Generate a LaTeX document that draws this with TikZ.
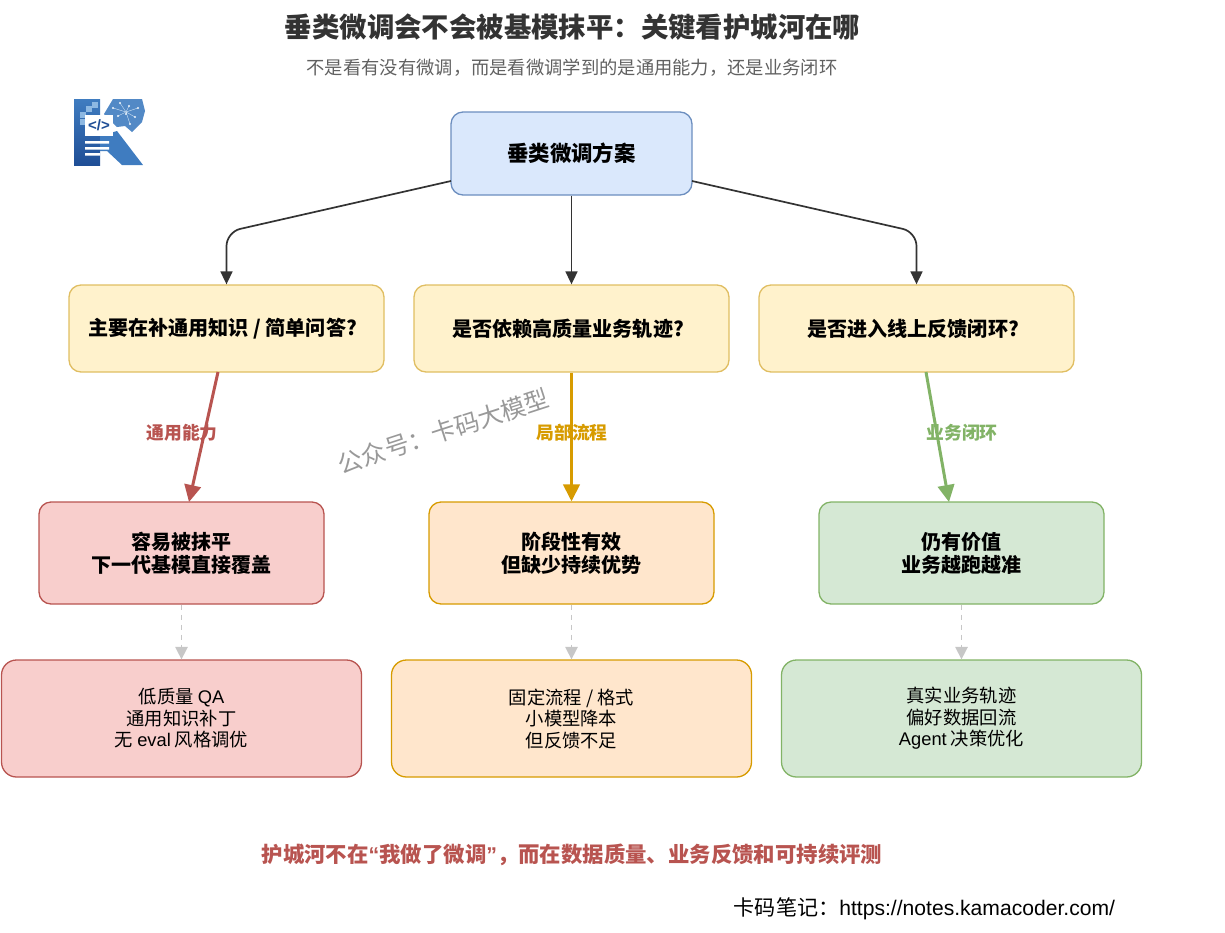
\documentclass[tikz,border=0pt]{standalone}
\usepackage{fontspec}
\setmainfont{Noto Sans CJK SC}
\newfontfamily\latfont{Liberation Sans}
\usetikzlibrary{arrows.meta}
\definecolor{inkc}{HTML}{333333}
\definecolor{bluef}{HTML}{DAE8FC}
\definecolor{blued}{HTML}{6C8EBF}
\definecolor{yelf}{HTML}{FFF2CC}
\definecolor{yeld}{HTML}{E0BE62}
\definecolor{redf}{HTML}{F8CECC}
\definecolor{redd}{HTML}{B85450}
\definecolor{oraf}{HTML}{FFE6CC}
\definecolor{orad}{HTML}{D79B00}
\definecolor{grnf}{HTML}{D5E8D4}
\definecolor{grnd}{HTML}{82B366}
\definecolor{logod}{HTML}{1F4E96}
\definecolor{logom}{HTML}{3F7CC0}
\definecolor{logol}{HTML}{8DB8E2}
\tikzset{
    box/.style={draw, rounded corners=12, line width=1.3, align=center, text=black},
    rootbox/.style={box, fill=bluef, draw=blued, minimum width=241, minimum height=83,
        font=\fontsize{21.4}{24}\selectfont\bfseries},
    askbox/.style={box, fill=yelf, draw=yeld, minimum width=315, minimum height=87,
        font=\fontsize{20.1}{23}\selectfont\bfseries},
    endbox/.style={box, minimum width=285, minimum height=102,
        font=\fontsize{20}{23}\selectfont\bfseries},
    notebox/.style={box, rounded corners=15, minimum width=360, minimum height=117,
        font=\fontsize{18.3}{21.5}\selectfont},
    tag/.style={font=\fontsize{17.8}{20}\selectfont\bfseries},
    plainarrow/.style={-{Triangle[length=13, width=12]}, line width=1.7, draw=inkc},
    thickarrow/.style={-{Triangle[length=17, width=16.5]}, line width=3},
    hintarrow/.style={-{Triangle[length=12.5, width=12.5]}, line width=1.5, draw=black!22, dash pattern=on 5 off 5}
}
\begin{document}
\begin{tikzpicture}[x=1pt, y=-1pt]
            \useasboundingbox (0,0) rectangle (1225,932);

            % title
            \node[text=inkc, font=\fontsize{27.4}{30}\selectfont\bfseries] (title) at (572.5, 27) {垂类微调会不会被基模抹平：关键看护城河在哪};
            \node[text=black!62, font=\fontsize{18.3}{22}\selectfont] (subtitle) at (572, 68) {不是看有没有微调，而是看微调学到的是通用能力，还是业务闭环};

            % logo
            \fill[top color=logom, bottom color=logod] (74,99) rectangle (100,165);
            \fill[logom] (117,131) -- (143,165) -- (122,165) -- (107,151) -- (100,151) -- (100,136) -- cycle;
            \fill[logom!90] (113,99) -- (142,99) -- (145,111) -- (142,122) -- (132,132) -- (125,126) -- (117,127) -- (104,114) -- cycle;
            \foreach \x/\y in {80/112, 80/119, 86/106, 92/102}{
                \fill[logol] (\x,\y) rectangle +(5.5,5.5);
            }
            \foreach \x/\y in {113/108, 120/103, 129/106, 138/108, 126/114, 135/117, 118/116, 130/124}{
                \draw[white!60!logol, line width=0.4] (\x,\y) -- (126,112);
                \fill[white!85!logol] (\x,\y) circle (1.2);
            }
            \fill[white] (85,115) rectangle (113,136);
            \node[text=logod, font=\latfont\fontsize{15}{16}\selectfont\bfseries] (logotag) at (99,125) {</>};
            \fill[white] (85,141) rectangle (109,143.5)
                         (85,147) rectangle (109,149.5)
                         (85,153) rectangle (100,155.5);

            % boxes
            \node[rootbox] (root) at (571.5, 153.5) {\raisebox{-1.5pt}{垂类微调方案}};

            \node[askbox] (ask1) at (226.5, 328.5) {主要在补通用知识 / 简单问答?\hspace*{8pt}};
            \node[askbox] (ask2) at (571.5, 328.5) {是否依赖高质量业务轨迹?\hspace*{7pt}};
            \node[askbox] (ask3) at (916.5, 328.5) {是否进入线上反馈闭环?\hspace*{7pt}};

            \node[endbox, fill=redf, draw=redd] (end1) at (181.5, 553) {容易被抹平\\下一代基模直接覆盖};
            \node[endbox, fill=oraf, draw=orad] (end2) at (571.5, 553) {阶段性有效\\但缺少持续优势};
            \node[endbox, fill=grnf, draw=grnd] (end3) at (961.5, 553) {仍有价值\\业务越跑越准};

            \node[notebox, fill=redf, draw=redd] (note1) at (181.5, 718.5) {低质量 {\latfont QA}\\通用知识补丁\\无 {\latfont eval} 风格调优};
            \node[notebox, fill=oraf, draw=orad] (note2) at (571.5, 718.5) {固定流程 / 格式\\小模型降本\\但反馈不足};
            \node[notebox, fill=grnf, draw=grnd] (note3) at (961.5, 718.5) {真实业务轨迹\\偏好数据回流\\{\latfont Agent} 决策优化};

            % root to questions
            \coordinate (rootl) at (451, 181);
            \coordinate (rootr) at (692, 181);
            \draw[plainarrow, rounded corners=14] (rootl) -- (226.5, 232) -- (ask1.north);
            \draw[plainarrow] (root.south) -- (ask2.north);
            \draw[plainarrow, rounded corners=14] (rootr) -- (916.5, 232) -- (ask3.north);

            % questions to results
            \coordinate (from1) at (218, 372);
            \coordinate (to1) at (189, 502);
            \coordinate (from3) at (926, 372);
            \coordinate (to3) at (949, 502);
            \draw[thickarrow, draw=redd, fill=redd] (from1) -- (to1);
            \draw[thickarrow, draw=orad, fill=orad] (ask2.south) -- (end2.north);
            \draw[thickarrow, draw=grnd, fill=grnd] (from3) -- (to3);

            \foreach \n in {1,2,3}{
                \draw[hintarrow] (end\n.south) -- (note\n.north);
            }

            \node[tag, text=redd] (tag1) at (182, 433) {通用能力};
            \node[tag, text=orad] (tag2) at (572, 433) {局部流程};
            \node[tag, text=grnd] (tag3) at (962, 433) {业务闭环};

            % watermark
            \node[text=black!40, rotate=18, font=\fontsize{24.5}{28}\selectfont] (mark) at (443.5, 431) {公众号：卡码大模型};

            % bottom lines
            \node[text=redd, font=\fontsize{21.4}{24}\selectfont\bfseries] (moat) at (572, 855) {护城河不在{\latfont “}我做了微调{\latfont ”}，而在数据质量、业务反馈和可持续评测};
            \node[text=black, anchor=east, font=\fontsize{21.1}{24}\selectfont] (site) at (1118.5, 908.5) {卡码笔记：{\latfont https://notes.kamacoder.com/}};
        \end{tikzpicture}
\end{document}
